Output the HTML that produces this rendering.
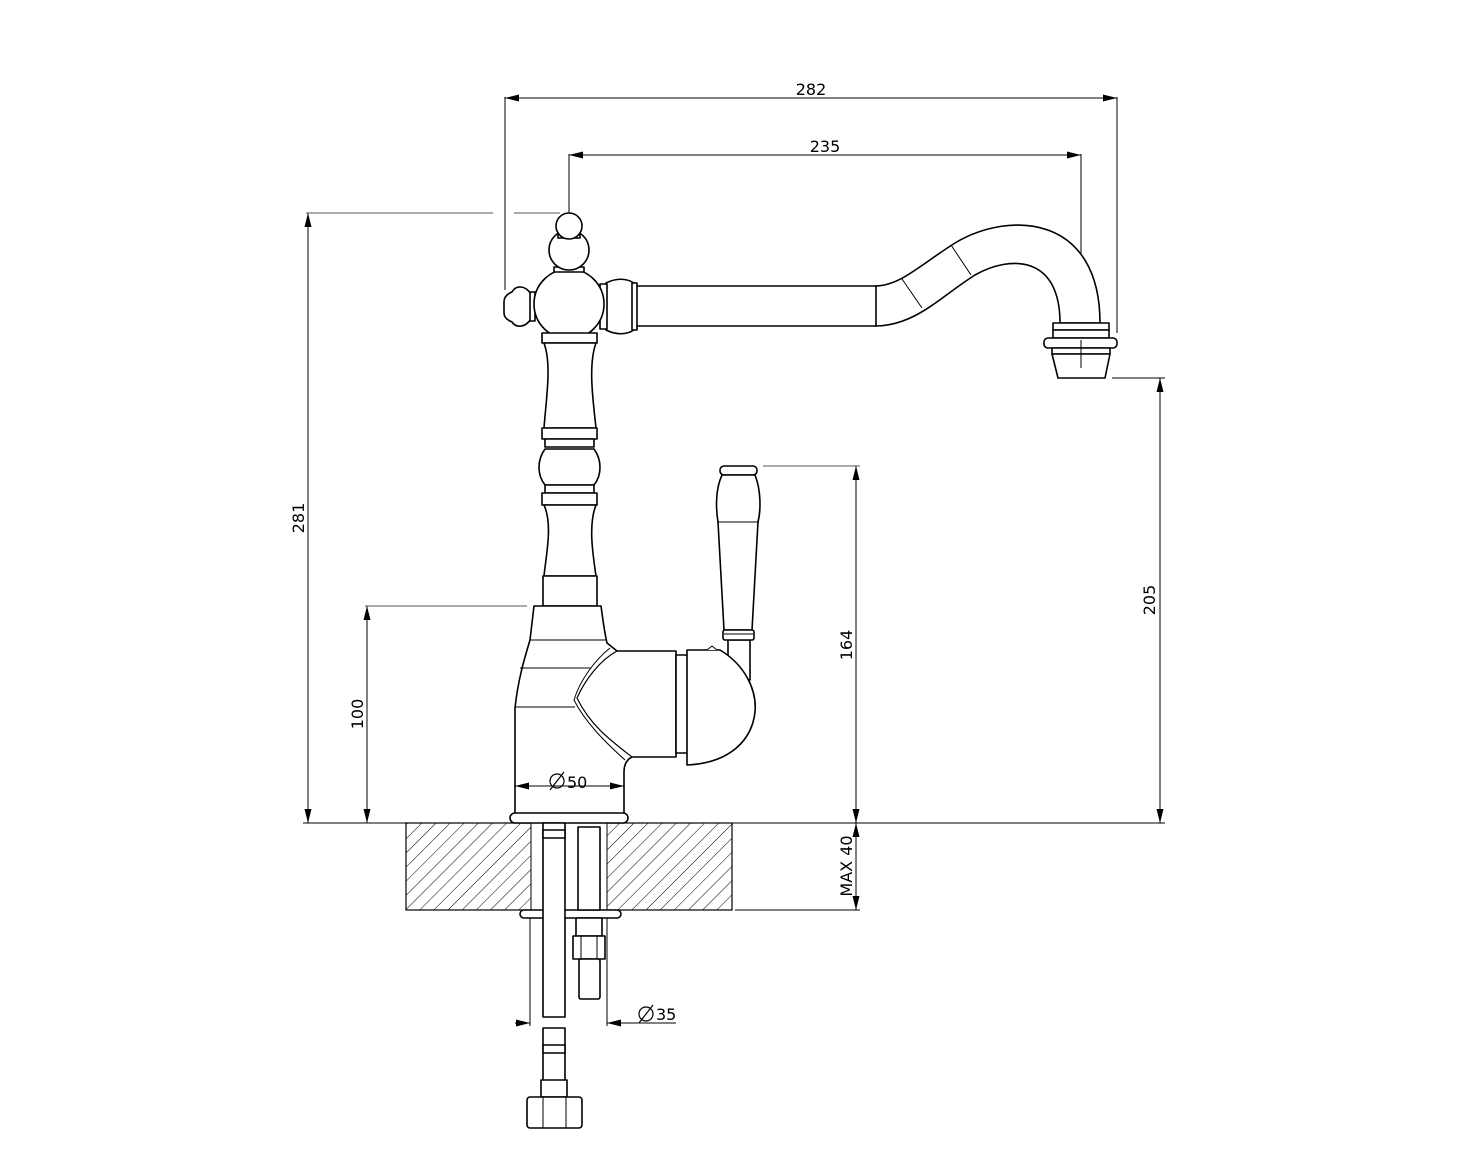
<!DOCTYPE html>
<html><head><meta charset="utf-8"><style>
html,body{margin:0;padding:0;background:#fff;}
svg{display:block;}
text{font-family:"DejaVu Sans","Liberation Sans",sans-serif;font-size:16px;fill:#000;}
</style></head><body>
<svg width="1476" height="1168" viewBox="0 0 1476 1168" xmlns="http://www.w3.org/2000/svg">
<defs>
<pattern id="h" patternUnits="userSpaceOnUse" width="10" height="10" patternTransform="rotate(45)">
<line x1="0" y1="0" x2="0" y2="10" stroke="#000" stroke-width="1"/>
</pattern>
<marker id="a" viewBox="0 0 14 7" refX="14" refY="3.5" markerWidth="14" markerHeight="7" markerUnits="userSpaceOnUse" orient="auto-start-reverse">
<path d="M0,0L14,3.5L0,7z" fill="#000"/></marker>
</defs>

<g stroke="#000" stroke-width="1" fill="none">
<line x1="505" y1="98" x2="1117" y2="98" marker-start="url(#a)" marker-end="url(#a)"/>
<line x1="505" y1="97" x2="505" y2="290"/>
<line x1="1117" y1="97" x2="1117" y2="333"/>
<line x1="569" y1="155" x2="1081" y2="155" marker-start="url(#a)" marker-end="url(#a)"/>
<line x1="569" y1="154" x2="569" y2="213"/>
<line x1="1081" y1="154" x2="1081" y2="370"/>
<line x1="308" y1="213" x2="308" y2="823" marker-start="url(#a)" marker-end="url(#a)"/>
<line x1="306" y1="213" x2="493" y2="213" stroke="#555"/>
<line x1="514" y1="213" x2="560" y2="213" stroke="#555"/>
<line x1="367" y1="606" x2="367" y2="823" marker-start="url(#a)" marker-end="url(#a)"/>
<line x1="365" y1="606" x2="527" y2="606" stroke="#555"/>
<line x1="856" y1="466" x2="856" y2="823" marker-start="url(#a)" marker-end="url(#a)"/>
<line x1="763" y1="466" x2="860" y2="466" stroke="#555"/>
<line x1="1160" y1="378" x2="1160" y2="823" marker-start="url(#a)" marker-end="url(#a)"/>
<line x1="1112" y1="378" x2="1165" y2="378"/>
<line x1="303" y1="823" x2="406" y2="823"/>
<line x1="732" y1="823" x2="1165" y2="823"/>
<line x1="856" y1="823" x2="856" y2="910" marker-start="url(#a)" marker-end="url(#a)"/>
<line x1="735" y1="910" x2="860" y2="910"/>
<line x1="530" y1="910" x2="530" y2="1026"/>
<line x1="607" y1="910" x2="607" y2="1026"/>
<line x1="515" y1="1023" x2="530" y2="1023" marker-end="url(#a)"/>
<line x1="676" y1="1023" x2="607" y2="1023" marker-end="url(#a)"/>
</g>
<text x="811" y="95" text-anchor="middle">282</text>
<text x="825" y="152" text-anchor="middle">235</text>
<text transform="translate(304,518) rotate(-90)" text-anchor="middle">281</text>
<text transform="translate(363,714) rotate(-90)" text-anchor="middle">100</text>
<text transform="translate(852,645) rotate(-90)" text-anchor="middle">164</text>
<text transform="translate(1155,600) rotate(-90)" text-anchor="middle">205</text>
<text transform="translate(852,866) rotate(-90)" text-anchor="middle">MAX 40</text>
<text x="656" y="1020">35</text>
<g stroke="#000" fill="none" stroke-width="1.2">
<circle cx="646" cy="1014" r="7"/><line x1="639" y1="1023" x2="653" y2="1005"/>
</g>

<rect x="406" y="823" width="326" height="87" fill="url(#h)" stroke="#000" stroke-width="1.2"/>
<rect x="531" y="823" width="76" height="87" fill="#fff" stroke="#000" stroke-width="1"/>

<g stroke="#000" stroke-width="1.6" fill="#fff" stroke-linejoin="round">
<path d="M875,286 C900,286 920,265 955,243 C1010,210 1100,215 1100,323 L1060,323 C1060,255 1010,255 975,275 C940,297 915,326 875,326 Z"/>
<line x1="875" y1="286" x2="875" y2="326" stroke-width="1"/>
<line x1="902" y1="279" x2="922" y2="308" stroke-width="1"/>
<line x1="951" y1="245" x2="971" y2="275" stroke-width="1"/>
<rect x="1053" y="323" width="56" height="7"/>
<rect x="1053" y="330" width="56" height="8"/>
<rect x="1044" y="338" width="73" height="10" rx="4"/>
<rect x="1052" y="348" width="58" height="6"/>
<path d="M1052,354 L1110,354 L1105,378 L1058,378 Z"/>
<line x1="1081" y1="340" x2="1081" y2="368" stroke-width="1"/>
<rect x="636" y="286" width="240" height="40"/>
<path d="M606,283 C616,278 626,278 634,283 L634,330 C626,335 616,335 606,330 Z"/>
<rect x="632" y="283" width="5" height="47"/>
<rect x="600" y="284" width="7" height="45"/>
<path d="M531,294 C525,285 516,285 512,292 C507,294 504,297 504,302 L504,313 C504,317 507,320 512,322 C516,328 525,328 531,319 Z"/>
<rect x="530" y="292" width="5" height="29"/>
<circle cx="569" cy="304" r="35"/>
<rect x="554" y="267" width="30" height="5"/>
<circle cx="569" cy="250" r="20"/>
<rect x="558" y="234" width="22" height="4"/>
<circle cx="569" cy="226" r="13"/>
<rect x="542" y="333" width="55" height="10"/>
<path d="M544,343 C552,365 546,400 544,428 L596,428 C593,400 588,365 596,343 Z"/>
<rect x="542" y="428" width="55" height="11"/>
<rect x="545" y="439" width="49" height="8"/>
<path d="M545,449 C537,460 537,475 545,485 L594,485 C602,475 602,460 594,449 Z"/>
<rect x="545" y="485" width="49" height="8"/>
<rect x="542" y="493" width="55" height="12"/>
<path d="M544,505 C553,525 546,555 544,576 L596,576 C593,555 588,525 596,505 Z"/>
<rect x="543" y="576" width="54" height="30"/>
<path d="M534,606 L601,606 C603,620 604,630 607,643 L617,651 L676,651 L676,757 L632,757 C626,760 624,765 624,772 L624,816 L515,816 L515,708 C518,680 524,660 530,640 Z"/>
<line x1="530" y1="640" x2="606" y2="640" stroke-width="1"/>
<line x1="520" y1="668" x2="591" y2="668" stroke-width="1"/>
<line x1="515" y1="707" x2="575" y2="707" stroke-width="1"/>
<path d="M617,651 C600,660 585,680 577,698 C590,725 610,740 632,757" fill="none" stroke-width="1.2"/>
<path d="M610,648 C595,660 580,680 574,700 C585,722 605,742 625,760" fill="none" stroke-width="1"/>
<rect x="728" y="640" width="22" height="40"/>
<rect x="676" y="655" width="12" height="98"/>
<path d="M687,650 L720,650 C745,665 757,690 755,712 C752,740 730,763 687,765 Z"/>
<path d="M707,650 L712,646 L717,650" stroke-width="1"/>
<rect x="720" y="466" width="37" height="9" rx="4"/>
<path d="M722,475 C715,490 716,510 718,522 L724,630 L752,630 L758,522 C761,510 761,490 755,475 Z"/>
<line x1="718" y1="522" x2="759" y2="522" stroke-width="1"/>
<rect x="723" y="630" width="31" height="10" rx="2"/>
<line x1="724" y1="634" x2="753" y2="634" stroke-width="1"/>
<rect x="510" y="813" width="118" height="10" rx="5"/>
<rect x="520" y="910" width="101" height="8" rx="4"/>
<rect x="543" y="823" width="22" height="194"/>
<rect x="543" y="830" width="22" height="8"/>
<rect x="578" y="827" width="22" height="83"/>
<rect x="576" y="918" width="26" height="18"/>
<rect x="573" y="936" width="32" height="23"/>
<line x1="581" y1="936" x2="581" y2="959" stroke-width="1"/>
<line x1="597" y1="936" x2="597" y2="959" stroke-width="1"/>
<rect x="579" y="959" width="21" height="40" rx="2"/>
<rect x="543" y="1028" width="22" height="70"/>
<rect x="543" y="1045" width="22" height="8"/>
<rect x="541" y="1080" width="26" height="17"/>
<rect x="527" y="1097" width="55" height="31" rx="3"/>
<line x1="543" y1="1097" x2="543" y2="1128" stroke-width="1"/>
<line x1="566" y1="1097" x2="566" y2="1128" stroke-width="1"/>
</g>

<!-- Ø50 on top -->
<line x1="515" y1="786" x2="624" y2="786" stroke="#000" stroke-width="1" marker-start="url(#a)" marker-end="url(#a)"/>
<text x="567" y="788">50</text>
<g stroke="#000" fill="none" stroke-width="1.2">
<circle cx="557" cy="781" r="7"/><line x1="550" y1="790" x2="564" y2="772"/>
</g>
</svg>
</body></html>
